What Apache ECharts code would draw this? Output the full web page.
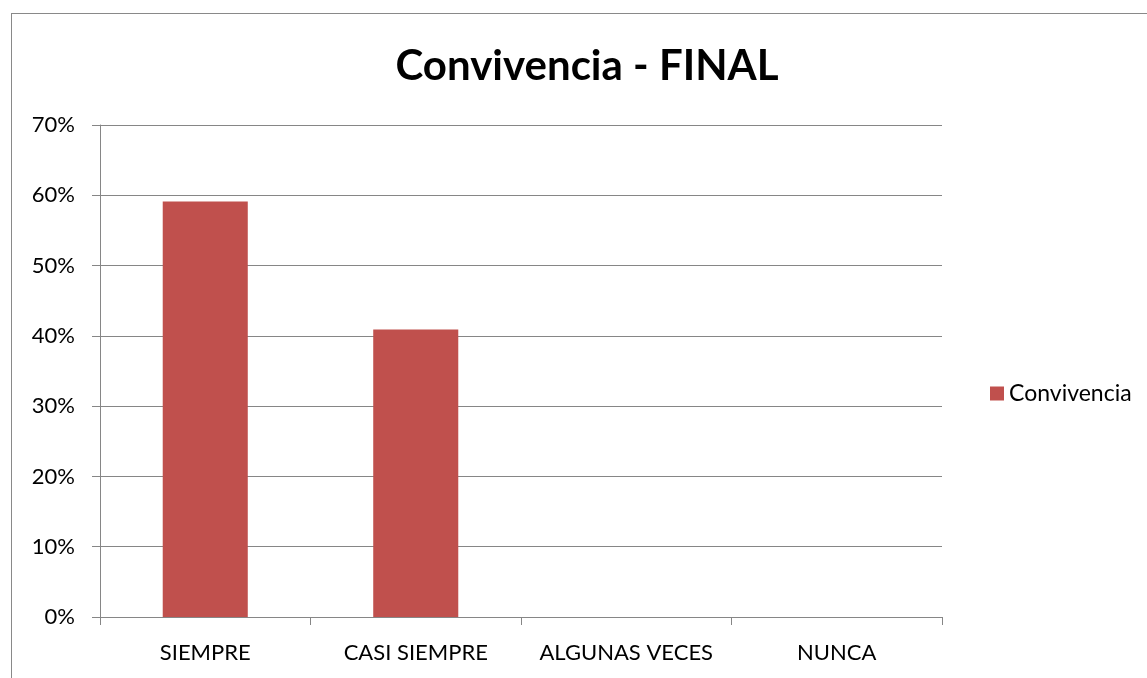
<!DOCTYPE html>
<html>
<head>
<meta charset="utf-8">
<script src="https://cdn.jsdelivr.net/npm/echarts@6/dist/echarts.min.js"></script>
<style>
  html, body { margin: 0; padding: 0; background: #fff; }
  #frame { position: absolute; left: 11px; top: 13px; width: 1200px; height: 700px;
    border-left: 1px solid #898989; border-top: 1px solid #898989; }
  #chart { position: absolute; left: 0; top: 0; width: 1147px; height: 678px; }
</style>
</head>
<body>
<div id="frame"></div>
<div id="chart"></div>
<script>
const categories = ['SIEMPRE', 'CASI SIEMPRE', 'ALGUNAS VECES', 'NUNCA']
const seriesName = 'Convivencia'
const values = [59.1, 40.9, 0, 0]

const font = 'Lato, "Open Sans", sans-serif'
const myChart = echarts.init(document.getElementById('chart'))

myChart.setOption({
  animation: false,
  title: {
    text: 'Convivencia - FINAL',
    left: 582,
    textAlign: 'center',
    top: 40,
    textStyle: { fontSize: 42, fontWeight: 'bold', color: '#000', fontFamily: font }
  },
  legend: {
    left: 985,
    top: 377,
    orient: 'vertical',
    itemWidth: 14,
    itemHeight: 14,
    itemGap: 6,
    icon: 'rect',
    textStyle: { fontSize: 23, color: '#000', fontFamily: font },
    data: [seriesName]
  },
  grid: {
    left: 100,
    right: 205,
    top: 125,
    bottom: 61,
    containLabel: false
  },
  xAxis: {
    type: 'category',
    data: categories,
    axisLine: { lineStyle: { color: '#868686', width: 1 } },
    axisTick: { show: true, length: 8, alignWithLabel: false, lineStyle: { color: '#868686' } },
    axisLabel: { fontSize: 22, color: '#000', margin: 25, fontFamily: font, interval: 0 }
  },
  yAxis: {
    type: 'value',
    min: 0,
    max: 70,
    interval: 10,
    axisLine: { show: true, lineStyle: { color: '#868686' } },
    axisTick: { show: true, length: 8, lineStyle: { color: '#868686' } },
    axisLabel: { fontSize: 22, color: '#000', margin: 25, fontFamily: font, formatter: '{value}%' },
    splitLine: { show: true, lineStyle: { color: '#868686', width: 1 } }
  },
  series: [
    {
      name: seriesName,
      type: 'bar',
      data: values,
      barWidth: '40.4%',
      itemStyle: { color: '#C0504D' }
    }
  ]
})

window.addEventListener('resize', () => {
  myChart.resize()
})
</script>
</body>
</html>
